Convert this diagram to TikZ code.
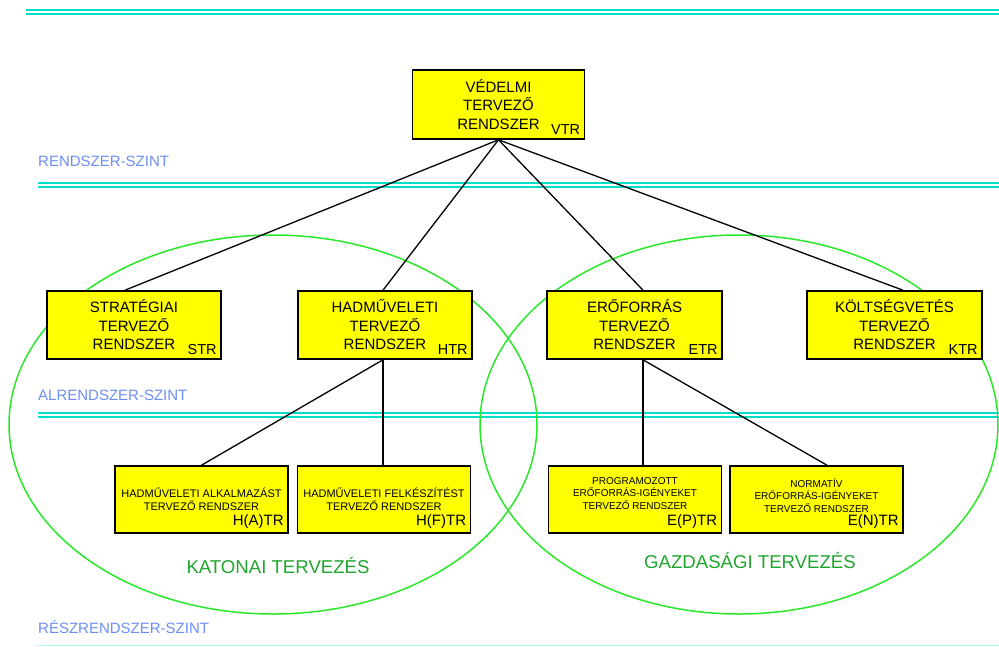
\documentclass[tikz,border=0pt]{standalone}
\usepackage{fontspec}
\setmainfont{Liberation Sans}

\definecolor{levelline}{RGB}{0,222,200}
\definecolor{levelfont}{RGB}{108,142,245}
\definecolor{ringline}{RGB}{40,232,40}
\definecolor{ringfont}{RGB}{30,165,45}
\definecolor{boxfill}{RGB}{255,255,0}

\newcommand{\fsize}[1]{\fontsize{#1}{1.23\dimexpr#1pt\relax}\selectfont}

\begin{document}
\begin{tikzpicture}[
      x=1pt, y=-1pt,
      levelrule/.style={draw=levelline, line width=2pt, double=white, double distance=2pt},
      leveltext/.style={anchor=west, inner sep=0pt, text=levelfont, font=\fsize{15}},
      sysbox/.style={rectangle, draw=black, line width=1.6pt, fill=boxfill, inner sep=0pt, align=center, font=\fsize{15}},
      subbox/.style={sysbox, minimum width=173pt, minimum height=67pt},
      abbr/.style={anchor=south east, inner sep=5pt, font=\fsize{14.5}},
      link/.style={line width=1.3pt, draw=black},
      ring/.style={draw=ringline, line width=1.5pt},
      ringtext/.style={text=ringfont, font=\fsize{18.6}}
      ]

      % fix the page to the size of the reference
      \useasboundingbox (0,0) rectangle (999,646);

      % the level rules and their names
      \draw[levelrule] (26,12) -- (999,12);
      \node[leveltext] (lsys) at (38,161) {RENDSZER-SZINT};
      \draw[levelrule] (38,185) -- (999,185);
      \node[leveltext] (lsub) at (38,395) {ALRENDSZER-SZINT};
      \draw[levelrule] (38,415) -- (999,415);
      \node[leveltext] (lpart) at (38,627) {RÉSZRENDSZER-SZINT};
      \draw[draw=levelline!30, line width=1pt] (38,645) -- (999,645);

      % the two planning areas
      \draw[ring] (273,424.5) ellipse [x radius=264pt, y radius=189.5pt];
      \draw[ring] (739,424.5) ellipse [x radius=259pt, y radius=189.5pt];
      \node[ringtext] (katonai) at (278,566) {KATONAI TERVEZÉS};
      \node[ringtext] (gazdasagi) at (750,561) {GAZDASÁGI TERVEZÉS};

      % top of the tree
      \node[sysbox, minimum width=172pt, minimum height=69pt, label={[abbr]south east:VTR}] (vtr) at (498.5,104.5)
        {VÉDELMI\\TERVEZŐ\\RENDSZER};

      % second level: the four subsystems
      \node[sysbox, minimum width=174pt, minimum height=68pt, label={[abbr]south east:STR}] (str) at (134,325)
        {STRATÉGIAI\\TERVEZŐ\\RENDSZER};
      \node[sysbox, minimum width=174pt, minimum height=68pt, label={[abbr]south east:HTR}] (htr) at (385,325)
        {HADMŰVELETI\\TERVEZŐ\\RENDSZER};
      \node[sysbox, minimum width=175pt, minimum height=68pt, label={[abbr]south east:ETR}] (etr) at (634.5,325)
        {ERŐFORRÁS\\TERVEZŐ\\RENDSZER};
      \node[sysbox, minimum width=175pt, minimum height=68pt, label={[abbr]south east:KTR}] (ktr) at (894.5,325)
        {KÖLTSÉGVETÉS\\TERVEZŐ\\RENDSZER};

      % third level: the parts
      \node[subbox, font=\fsize{11}, label={[abbr, font=\fsize{15}]south east:H(A)TR}] (hatr) at (201.5,499.5)
        {HADMŰVELETI ALKALMAZÁST\\TERVEZŐ RENDSZER};
      \node[subbox, font=\fsize{11}, label={[abbr, font=\fsize{15}]south east:H(F)TR}] (hftr) at (384,499.5)
        {HADMŰVELETI FELKÉSZÍTÉST\\TERVEZŐ RENDSZER};
      \node[subbox, font=\fsize{10}, text depth=12pt, label={[abbr, font=\fsize{15}]south east:E(P)TR}] (eptr) at (635,499.5)
        {PROGRAMOZOTT\\ERŐFORRÁS-IGÉNYEKET\\TERVEZŐ RENDSZER};
      \node[subbox, font=\fsize{10}, text depth=8pt, label={[abbr, font=\fsize{15}]south east:E(N)TR}] (entr) at (816.5,499.5)
        {NORMATÍV\\ERŐFORRÁS-IGÉNYEKET\\TERVEZŐ RENDSZER};

      % connectors
      \path (vtr.south) edge [link] ([xshift=-9pt]str.north);
      \path (vtr.south) edge [link] ([xshift=-2pt]htr.north);
      \path (vtr.south) edge [link] ([xshift=8.5pt]etr.north);
      \path (vtr.south) edge [link] ([xshift=8.5pt]ktr.north);
      \path ([xshift=-2pt]htr.south) edge [link] (hatr.north);
      \path ([xshift=-2pt]htr.south) edge [link] ([xshift=-1pt]hftr.north);
      \path ([xshift=8.5pt]etr.south) edge [link] ([xshift=8pt]eptr.north);
      \path ([xshift=8.5pt]etr.south) edge [link] ([xshift=10.5pt]entr.north);
    \end{tikzpicture}
\end{document}
